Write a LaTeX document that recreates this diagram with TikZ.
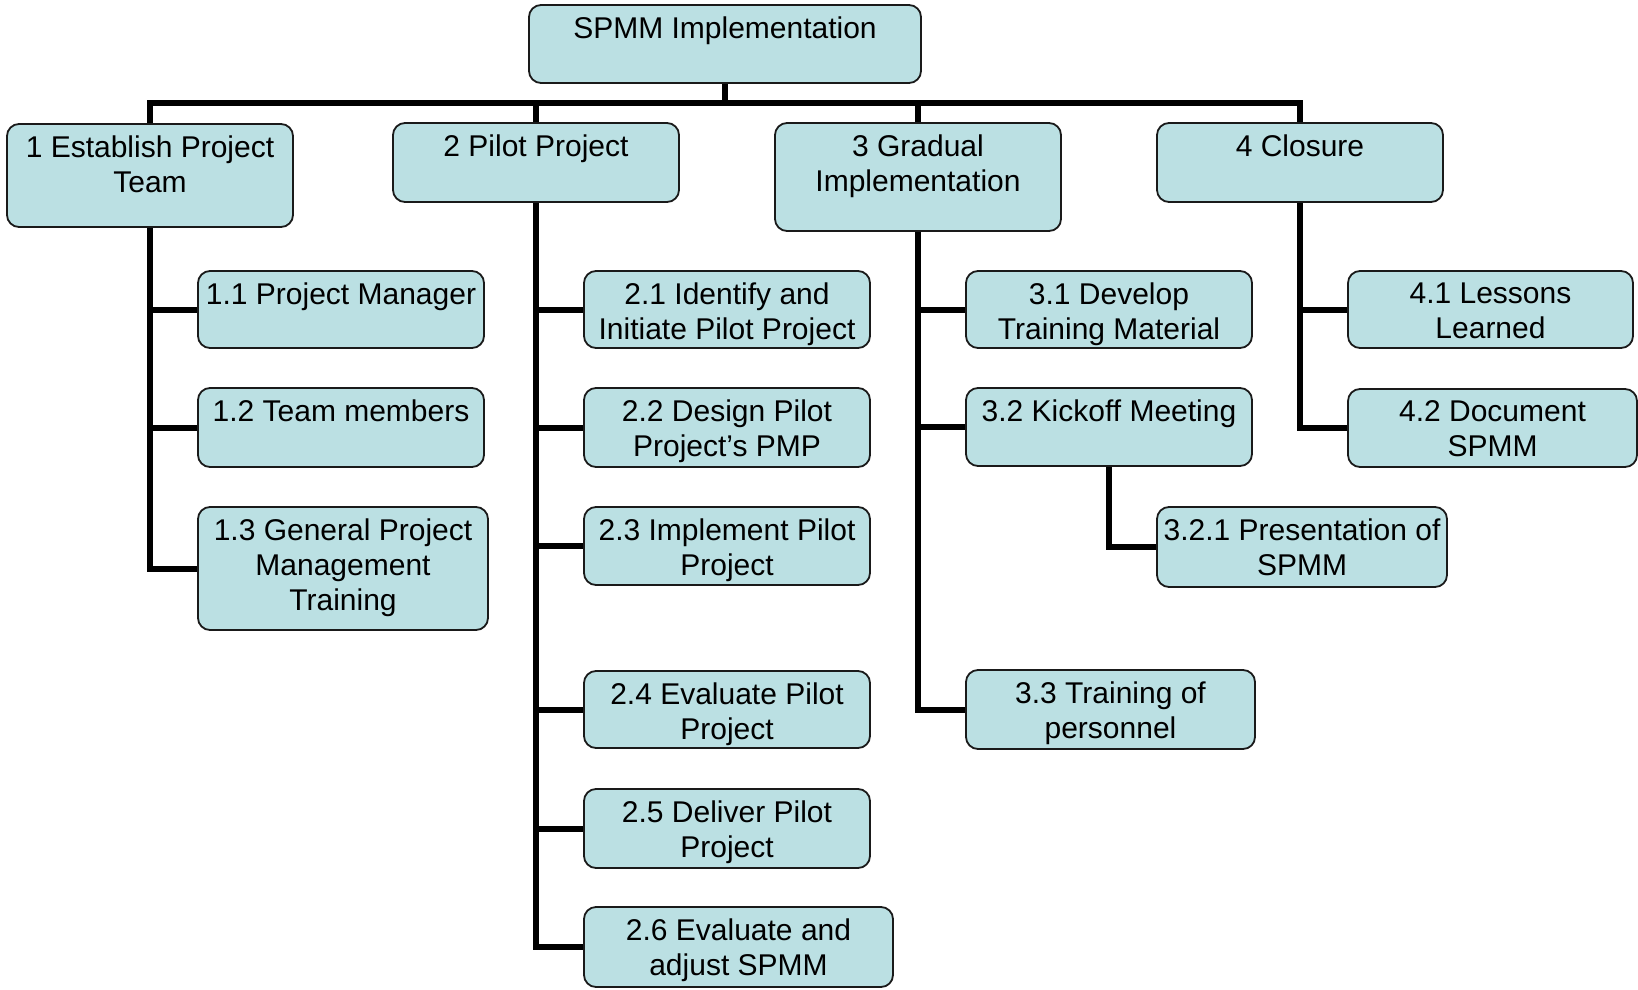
\documentclass[tikz,border=0pt]{standalone}
\usepackage{fontspec}
\setmainfont{Liberation Sans}
\usetikzlibrary{backgrounds}

\definecolor{boxfill}{HTML}{BBE0E3}
\definecolor{boxline}{HTML}{1A1A1A}

\tikzset{
  wbsbox/.style={draw=boxline, line width=1.8pt, fill=boxfill,
    rounded corners=12pt, rectangle, inner sep=0pt, outer sep=0pt,
    anchor=north west},
  wbslabel/.style={anchor=north, inner sep=0pt, outer sep=0pt, align=center,
    font=\fontsize{30pt}{35pt}\selectfont},
  conn/.style={line width=6pt, draw=black, line join=miter, line cap=butt}
}

% \wbsitem{name}{left}{top}{width}{height}{text}
\newcommand{\wbsitem}[6]{%
  \node[wbsbox, minimum width=#4pt, minimum height=#5pt] (#1) at (#2,#3) {};
  \node[wbslabel] (#1-t) at ([yshift=-12pt]#1.north) {#6};
}

\begin{document}
\begin{tikzpicture}[x=1pt, y=-1pt]
  \useasboundingbox (0,0) rectangle (1638,990);

  % top level
  \wbsitem{root}{529}{5}{392}{78}{SPMM Implementation}

  % phases
  \wbsitem{b1}{7}{124}{286}{103}{1 Establish Project\\Team}
  \wbsitem{b2}{393}{123}{286}{79}{2 Pilot Project}
  \wbsitem{b3}{775}{123}{286}{108}{3 Gradual\\Implementation}
  \wbsitem{b4}{1157}{123}{286}{79}{4 Closure}

  % phase 1
  \wbsitem{b11}{198}{271}{286}{77}{1.1 Project Manager}
  \wbsitem{b12}{198}{388}{286}{79}{1.2 Team members}
  \wbsitem{b13}{198}{507}{290}{123}{1.3 General Project\\Management\\Training}

  % phase 2
  \wbsitem{b21}{584}{271}{286}{77}{2.1 Identify and\\Initiate Pilot Project}
  \wbsitem{b22}{584}{388}{286}{79}{2.2 Design Pilot\\Project’s PMP}
  \wbsitem{b23}{584}{507}{286}{78}{2.3 Implement Pilot\\Project}
  \wbsitem{b24}{584}{671}{286}{77}{2.4 Evaluate Pilot\\Project}
  \wbsitem{b25}{584}{789}{286}{79}{2.5 Deliver Pilot\\Project}
  \wbsitem{b26}{584}{907}{309}{80}{2.6 Evaluate and\\adjust SPMM}

  % phase 3
  \wbsitem{b31}{966}{271}{286}{77}{3.1 Develop\\Training Material}
  \wbsitem{b32}{966}{388}{286}{78}{3.2 Kickoff Meeting}
  \wbsitem{b321}{1157}{507}{290}{80}{3.2.1 Presentation of\\SPMM}
  \wbsitem{b33}{966}{670}{289}{79}{3.3 Training of\\personnel}

  % phase 4
  \wbsitem{b41}{1348}{271}{285}{77}{4.1 Lessons\\Learned}
  \wbsitem{b42}{1348}{389}{289}{78}{4.2 Document\\SPMM}

  \coordinate (bar) at (725,103);

  \begin{scope}[on background layer]
    % root to phases
    \draw[conn] (root.south) -- (bar);
    \draw[conn] (b1.north) -- (b1.north |- bar) -- (b4.north |- bar) -- (b4.north);
    \draw[conn] (b2.north) -- (b2.north |- bar);
    \draw[conn] (b3.north) -- (b3.north |- bar);

    % phase 1 branch
    \draw[conn] (b1.south) |- (b13.west);
    \draw[conn] (b1.south |- b11.west) -- (b11.west);
    \draw[conn] (b1.south |- b12.west) -- (b12.west);

    % phase 2 branch
    \draw[conn] (b2.south) |- (b26.west);
    \foreach \n in {b21,b22,b23,b24,b25}
      \draw[conn] (b2.south |- \n.west) -- (\n.west);

    % phase 3 branch
    \draw[conn] (b3.south) |- (b33.west);
    \draw[conn] (b3.south |- b31.west) -- (b31.west);
    \draw[conn] (b3.south |- b32.west) -- (b32.west);
    \draw[conn] (b32.south) |- (b321.west);

    % phase 4 branch
    \draw[conn] (b4.south) |- (b42.west);
    \draw[conn] (b4.south |- b41.west) -- (b41.west);
  \end{scope}
\end{tikzpicture}
\end{document}
